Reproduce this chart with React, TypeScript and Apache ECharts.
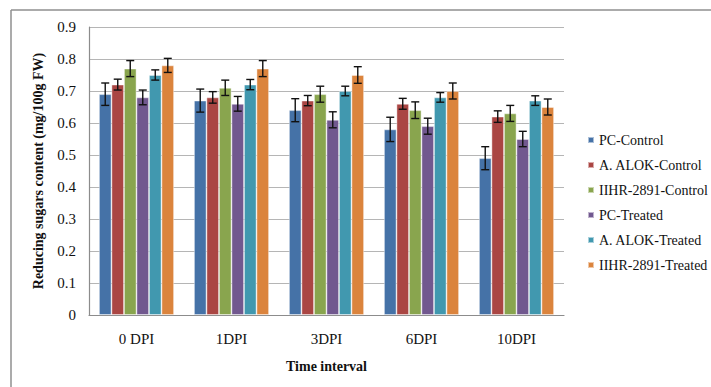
import React, { useEffect, useRef } from "react";
import * as echarts from "echarts";

const categories = ["0 DPI", "1DPI", "3DPI", "6DPI", "10DPI"];
const seriesNames = [
  "PC-Control",
  "A. ALOK-Control",
  "IIHR-2891-Control",
  "PC-Treated",
  "A. ALOK-Treated",
  "IIHR-2891-Treated",
];
const colors = ["#4572A7", "#AA4643", "#89A54E", "#71588F", "#4198AF", "#DB843D"];

const pcControl = [0.69, 0.67, 0.64, 0.58, 0.49];
const alokControl = [0.72, 0.68, 0.67, 0.66, 0.62];
const iihrControl = [0.77, 0.71, 0.69, 0.64, 0.63];
const pcTreated = [0.68, 0.66, 0.61, 0.59, 0.55];
const alokTreated = [0.75, 0.72, 0.7, 0.68, 0.67];
const iihrTreated = [0.78, 0.77, 0.75, 0.7, 0.65];

const pcControlErr = [0.035, 0.036, 0.036, 0.038, 0.036];
const alokControlErr = [0.017, 0.018, 0.016, 0.017, 0.018];
const iihrControlErr = [0.025, 0.024, 0.025, 0.026, 0.025];
const pcTreatedErr = [0.023, 0.023, 0.025, 0.025, 0.024];
const alokTreatedErr = [0.016, 0.016, 0.015, 0.015, 0.015];
const iihrTreatedErr = [0.022, 0.025, 0.026, 0.025, 0.025];

const yTicks = ["0", "0.1", "0.2", "0.3", "0.4", "0.5", "0.6", "0.7", "0.8", "0.9"];

const values = [pcControl, alokControl, iihrControl, pcTreated, alokTreated, iihrTreated];
const errors = [pcControlErr, alokControlErr, iihrControlErr, pcTreatedErr, alokTreatedErr, iihrTreatedErr];

const CAT_GAP = 0.21;
const FONT = "'Liberation Serif', 'Times New Roman', serif";

export default function App() {
  const ref = useRef<HTMLDivElement>(null);
  useEffect(() => {
    if (!ref.current) return;
    const chart = echarts.init(ref.current, null, { renderer: "svg" });
    const n = seriesNames.length;
    const barSeries = seriesNames.map((name, i) => ({
      name,
      type: "bar",
      data: values[i],
      barGap: "0%",
      barCategoryGap: CAT_GAP * 100 + "%",
      itemStyle: { color: colors[i], borderColor: "rgba(255,255,255,0.55)", borderWidth: 0.8 },
      z: 2,
    }));
    const errSeries = seriesNames.map((name, i) => ({
      name: name + "-err",
      type: "custom",
      data: values[i].map((v, k) => [k, v, errors[i][k]]),
      encode: { x: 0, y: 1 },
      z: 5,
      silent: true,
      renderItem: (params: any, api: any) => {
        const cat = api.value(0);
        const v = api.value(1);
        const e = api.value(2);
        const bandW = api.size([1, 0])[0];
        const bw = (bandW * (1 - CAT_GAP)) / n;
        const center = api.coord([cat, v]);
        const x = center[0] + (i - (n - 1) / 2) * bw;
        const hi = api.coord([cat, v + e])[1];
        const lo = api.coord([cat, v - e])[1];
        const cap = 4;
        const style = { stroke: "#111", lineWidth: 1.4 };
        return {
          type: "group",
          children: [
            { type: "line", shape: { x1: x, y1: hi, x2: x, y2: lo }, style },
            { type: "line", shape: { x1: x - cap, y1: hi, x2: x + cap, y2: hi }, style },
            { type: "line", shape: { x1: x - cap, y1: lo, x2: x + cap, y2: lo }, style },
          ],
        };
      },
    }));
    chart.setOption({
      animation: false,
      textStyle: { fontFamily: FONT },
      grid: { left: 89, right: 147, top: 27, bottom: 72, containLabel: false },
      legend: {
        data: seriesNames,
        orient: "vertical",
        left: 587,
        top: 133,
        padding: 0,
        icon: "rect",
        itemWidth: 6,
        itemHeight: 6,
        itemGap: 11,
        textStyle: { fontFamily: FONT, fontSize: 14, color: "#111", lineHeight: 14 },
      },
      xAxis: {
        type: "category",
        data: categories,
        axisTick: { show: false },
        axisLine: { lineStyle: { color: "#8c8c8c", width: 1.2 } },
        axisLabel: { fontFamily: FONT, fontSize: 15, color: "#111", margin: 16 },
        name: "Time interval",
        nameLocation: "middle",
        nameGap: 44,
        nameTextStyle: { fontFamily: FONT, fontSize: 14, fontWeight: "bold", color: "#111" },
      },
      yAxis: {
        type: "value",
        min: 0,
        max: 0.9,
        interval: 0.1,
        axisLine: { show: true, lineStyle: { color: "#8c8c8c", width: 1.2 } },
        axisTick: { show: false },
        splitLine: { lineStyle: { color: "#b5b5b5", width: 1.2 } },
        axisLabel: {
          fontFamily: FONT,
          fontSize: 15,
          color: "#111",
          margin: 13,
          formatter: (val: number) => yTicks[Math.round(val * 10)] ?? String(val),
        },
        name: "Reducing sugars content (mg/100g FW)",
        nameLocation: "middle",
        nameGap: 44,
        nameTextStyle: { fontFamily: FONT, fontSize: 14, fontWeight: "bold", color: "#111" },
      },
      graphic: [
        { type: "line", shape: { x1: 11, y1: 10, x2: 711, y2: 10 }, style: { stroke: "#8f8f8f", lineWidth: 1.5 } },
        { type: "line", shape: { x1: 11, y1: 10, x2: 11, y2: 387 }, style: { stroke: "#8f8f8f", lineWidth: 1.5 } },
      ],
      series: [...barSeries, ...errSeries],
    });
    return () => chart.dispose();
  }, []);
  return <div ref={ref} style={{ width: 711, height: 387, position: "absolute", left: 0, top: 0 }} />;
}
